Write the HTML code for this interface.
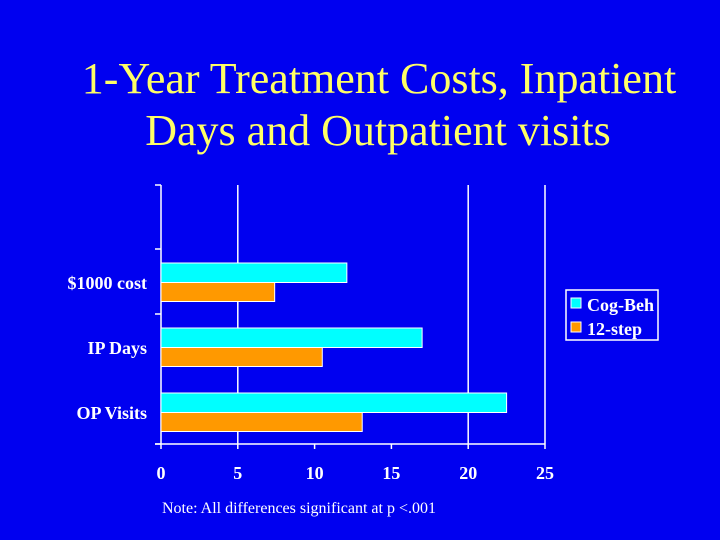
<!DOCTYPE html>
<html><head><meta charset="utf-8"><style>
html,body{margin:0;padding:0;background:#0000f0;}
svg{display:block;font-family:"Liberation Serif",serif;}
</style></head><body>
<svg width="720" height="540" viewBox="0 0 720 540">
<rect x="0" y="0" width="720" height="540" fill="#0000f0"/>
<text x="379" y="93" text-anchor="middle" font-size="44" fill="#ffff66">1-Year Treatment Costs, Inpatient</text>
<text x="378" y="145" text-anchor="middle" font-size="44" fill="#ffff66">Days and Outpatient visits</text>
<g id="plot"></g>
<g>
<rect x="566" y="290" width="92" height="50" fill="none" stroke="#fff" stroke-width="1.5"/>
<rect x="571" y="298" width="10" height="10" fill="#00ffff" stroke="#fff"/>
<text x="587" y="311" font-size="18" font-weight="bold" fill="#fff">Cog-Beh</text>
<rect x="571" y="322" width="10" height="10" fill="#ff9900" stroke="#fff"/>
<text x="587" y="335" font-size="18" font-weight="bold" fill="#fff">12-step</text>
</g>
<text x="162" y="513" font-size="16" fill="#fff">Note: All differences significant at p &lt;.001</text>
</svg>
<script>
const categories = ["$1000 cost", "IP Days", "OP Visits"];
const cogBeh = [12.1, 17.0, 22.5];
const twelveStep = [7.4, 10.5, 13.1];
const xTicks = [0, 5, 10, 15, 20, 25];
const gridValues = [5, 20, 25];

const NS = "http://www.w3.org/2000/svg";
const g = document.getElementById("plot");
const x0 = 161, x1 = 545, yTop = 185, yBot = 444, band = 65, firstBand = 249;
const xs = v => x0 + (v / 25) * (x1 - x0);
function mk(tag, attrs, text) {
  const e = document.createElementNS(NS, tag);
  for (const k in attrs) e.setAttribute(k, attrs[k]);
  if (text !== undefined) e.textContent = text;
  g.appendChild(e);
  return e;
}
gridValues.forEach(v => {
  const l = mk("line", {x1: xs(v), x2: xs(v), y1: yTop, y2: yBot, stroke: "#fff", "stroke-width": 1.5});
  
  
});
const ya = mk("line", {x1: x0, x2: x0, y1: yTop, y2: yBot, stroke: "#fff", "stroke-width": 1.5});


const xa = mk("line", {x1: x0 - 6, x2: x1, y1: yBot, y2: yBot, stroke: "#fff", "stroke-width": 1.5});


[yTop, firstBand, firstBand + band, yBot].forEach(y => {
  const t = mk("line", {x1: x0 - 6, x2: x0, y1: y, y2: y, stroke: "#fff", "stroke-width": 1.5});
  
  
});
xTicks.forEach(v => {
  const t = mk("line", {x1: xs(v), x2: xs(v), y1: yBot, y2: yBot + 5, stroke: "#fff", "stroke-width": 1.5});
  
  
  const lb = mk("text", {x: xs(v), y: yBot + 35, "text-anchor": "middle", "font-size": 18, "font-weight": "bold", fill: "#fff"}, String(v));
  
  
});
categories.forEach((c, i) => {
  const by = firstBand + i * band;
  const b1 = mk("rect", {x: x0, y: by + 14, width: xs(cogBeh[i]) - x0, height: 19.5, fill: "#00ffff", stroke: "#fff", "stroke-width": 1});
  
  
  const b2 = mk("rect", {x: x0, y: by + 33.5, width: xs(twelveStep[i]) - x0, height: 19, fill: "#ff9900", stroke: "#fff", "stroke-width": 1});
  
  
  const lb = mk("text", {x: x0 - 14, y: by + 40, "text-anchor": "end", "font-size": 18, "font-weight": "bold", fill: "#fff"}, c);
  
  
});
</script>
</body></html>
